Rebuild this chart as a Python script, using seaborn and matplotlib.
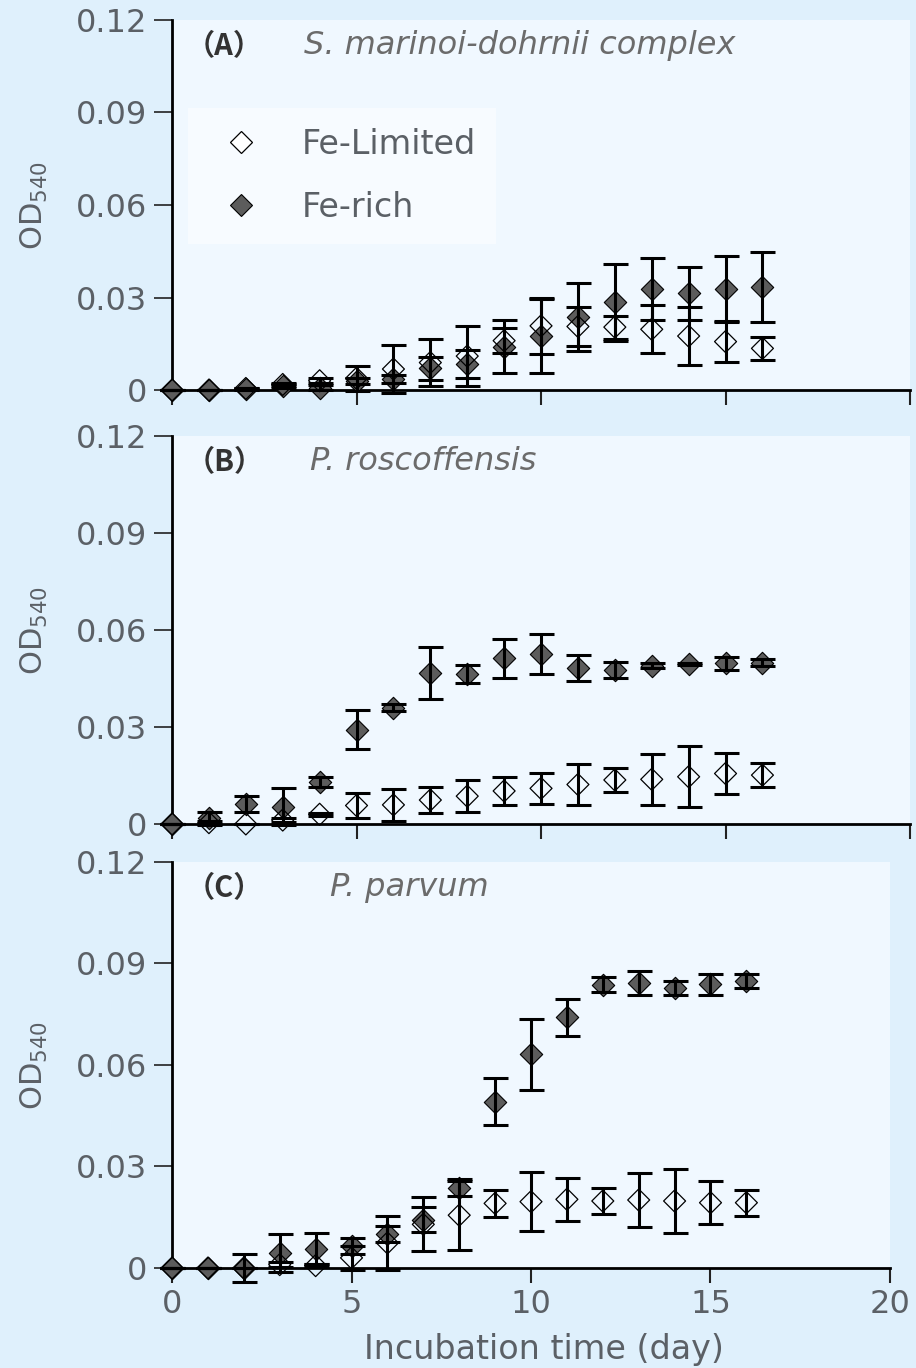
import numpy as np
import pandas as pd
import matplotlib
matplotlib.use("Agg")
import matplotlib.pyplot as plt
from matplotlib.lines import Line2D
import seaborn as sns

# incubation days (same for every panel)
days = list(range(17))

# panel A - S. marinoi-dohrnii complex
limited_A = [0, 0, 0.0005, 0.0018, 0.003, 0.0038, 0.0068, 0.0089, 0.011, 0.016, 0.0208,
             0.0206, 0.0204, 0.0197, 0.0175, 0.0157, 0.0135]
limited_A_sd = [0, 0, 0.0003, 0.0006, 0.0008, 0.004, 0.0077, 0.0077, 0.0098, 0.004, 0.009,
                0.0063, 0.0037, 0.0078, 0.0095, 0.0065, 0.0037]
rich_A = [0, 0, 0.0003, 0.0012, 0.0008, 0.003, 0.0036, 0.007, 0.0085, 0.014, 0.0175,
          0.0238, 0.0284, 0.0327, 0.0314, 0.0328, 0.0334]
rich_A_sd = [0, 0, 0.0003, 0.0006, 0.0008, 0.001, 0.0013, 0.0038, 0.0045, 0.0086, 0.012,
             0.011, 0.0126, 0.0101, 0.0086, 0.0105, 0.0112]

# panel B - P. roscoffensis
limited_B = [0, 0.0004, 0, 0.0012, 0.003, 0.0057, 0.0059, 0.0074, 0.0086, 0.0102, 0.011,
             0.0122, 0.0136, 0.0138, 0.0146, 0.0156, 0.0151]
limited_B_sd = [0, 0.0005, 0, 0.0007, 0.0005, 0.004, 0.005, 0.004, 0.005, 0.0042, 0.0047,
                0.0062, 0.0037, 0.0078, 0.0094, 0.0064, 0.0037]
rich_B = [0, 0.0017, 0.0061, 0.0053, 0.013, 0.0292, 0.036, 0.0467, 0.0464, 0.0512, 0.0526,
          0.0482, 0.0476, 0.0489, 0.0495, 0.0497, 0.0499]
rich_B_sd = [0, 0.002, 0.0025, 0.0057, 0.0015, 0.0059, 0.0012, 0.0081, 0.0028, 0.006, 0.0062,
             0.004, 0.0025, 0.0008, 0.0004, 0.002, 0.001]

# panel C - P. parvum
limited_C = [0, 0, 0, 0.001, 0.0007, 0.003, 0.0074, 0.0129, 0.0156, 0.0191, 0.0196,
             0.0203, 0.0198, 0.0201, 0.0198, 0.0193, 0.0193]
limited_C_sd = [0, 0, 0, 0.0007, 0.0005, 0.0036, 0.008, 0.008, 0.0102, 0.0041, 0.0088,
                0.0063, 0.0037, 0.0079, 0.0095, 0.0064, 0.0038]
rich_C = [0, 0, 0, 0.0044, 0.0057, 0.0065, 0.0101, 0.0143, 0.0237, 0.0492, 0.0632,
          0.0741, 0.0837, 0.0843, 0.0828, 0.0838, 0.0848]
rich_C_sd = [0, 0, 0.0041, 0.0057, 0.0046, 0.0025, 0.0023, 0.0037, 0.0025, 0.0069, 0.0105,
             0.0054, 0.0022, 0.0035, 0.002, 0.003, 0.002]

panel_tags = ["（A）", "（B）", "（C）"]
species = ["S. marinoi-dohrnii complex", "P. roscoffensis", "P. parvum"]
treatments = ["Fe-Limited", "Fe-rich"]
yticks = [0, 0.03, 0.06, 0.09, 0.12]
ytick_labels = ["0", "0.03", "0.06", "0.09", "0.12"]
xticks = [0, 5, 10, 15, 20]

series = [
    (limited_A, limited_A_sd, rich_A, rich_A_sd),
    (limited_B, limited_B_sd, rich_B, rich_B_sd),
    (limited_C, limited_C_sd, rich_C, rich_C_sd),
]

# long table
rows = []
for p, (lim, lim_sd, rich, rich_sd) in enumerate(series):
    for d, v, s in zip(days, lim, lim_sd):
        rows.append({"panel": p, "treatment": "Fe-Limited", "day": d, "od": v, "sd": s})
    for d, v, s in zip(days, rich, rich_sd):
        rows.append({"panel": p, "treatment": "Fe-rich", "day": d, "od": v, "sd": s})
data = pd.DataFrame(rows)

BG = "#dff0fc"
AX_BG = "#f0f8ff"
TXT = "#5b6066"
FILL = "#5c5c5c"

plt.rcParams["font.family"] = ["DejaVu Sans"]

fig = plt.figure(figsize=(9.16, 13.68), dpi=100, facecolor=BG)

# [left, bottom, width, height] in figure fraction
positions = [
    [0.1878, 0.7149, 0.8057, 0.2705],
    [0.1878, 0.3977, 0.8057, 0.2836],
    [0.1878, 0.0731, 0.7838, 0.2968],
]
text_pos = [(0.018, 0.93, 0.179), (0.018, 0.933, 0.187), (0.019, 0.936, 0.22)]

for p in range(3):
    ax = fig.add_axes(positions[p], facecolor=AX_BG)
    sub = data[data.panel == p]
    rich = sub[sub.treatment == "Fe-rich"]
    lim = sub[sub.treatment == "Fe-Limited"]

    sns.scatterplot(data=rich, x="day", y="od", marker="D", s=130, color=FILL,
                    edgecolor="black", linewidth=0.8, ax=ax, clip_on=False, zorder=3)
    sns.scatterplot(data=lim, x="day", y="od", marker="D", s=125, color="black",
                    edgecolor="black", linewidth=0.9, ax=ax, clip_on=False, zorder=3.5)
    ax.collections[-1].set_facecolor("none")

    for part in (rich, lim):
        eb = ax.errorbar(part.day, part.od, yerr=part.sd, fmt="none", ecolor="black",
                         elinewidth=2.2, capsize=9, capthick=2.2, zorder=4)
        for a in eb.lines[1] + eb.lines[2]:
            a.set_clip_on(False)

    ax.set_xlim(0, 20)
    ax.set_ylim(0, 0.12)
    ax.set_yticks(yticks)
    ax.set_yticklabels(ytick_labels)
    ax.set_xticks(xticks)
    for s in ["top", "right"]:
        ax.spines[s].set_visible(False)
    for s in ["left", "bottom"]:
        ax.spines[s].set_linewidth(2)
        ax.spines[s].set_color("black")
    ax.tick_params(axis="y", length=13, width=1.2, color="#222222", pad=5,
                   labelsize=23, labelcolor=TXT)
    ax.tick_params(axis="x", length=11, width=1.5, color="#222222", pad=4,
                   labelsize=23, labelcolor=TXT)

    ax.set_ylabel(r"OD$_{540}$", fontsize=22, color=TXT)
    ax.yaxis.set_label_coords(-0.165 if p < 2 else -0.170, 0.5)
    if p < 2:
        ax.tick_params(axis="x", labelbottom=False)
        ax.set_xlabel("")
    else:
        ax.set_xlabel("Incubation time (day)", fontsize=24, color=TXT)
        ax.xaxis.set_label_coords(0.518, -0.16)

    tx, ty, sx = text_pos[p]
    ax.text(tx, ty, panel_tags[p], transform=ax.transAxes, ha="left", va="center",
            fontsize=21, fontweight="bold", color="#333333",
            family=["Noto Sans CJK JP", "DejaVu Sans"])
    ax.text(sx, ty, species[p], transform=ax.transAxes, ha="left", va="center",
            fontsize=23, style="italic", color="#6b6b6b")

    if p == 0:
        handles = [
            Line2D([], [], ls="none", marker="D", markersize=11.4, mfc="white",
                   mec="black", mew=0.9),
            Line2D([], [], ls="none", marker="D", markersize=11.4, mfc=FILL,
                   mec="black", mew=0.8),
        ]
        leg = ax.legend(handles, treatments, loc="upper left",
                        bbox_to_anchor=(0.0217, 0.762), borderaxespad=0,
                        fontsize=24, labelcolor=TXT, frameon=True, fancybox=False,
                        facecolor="#f7fbff", edgecolor="none", framealpha=1,
                        borderpad=0.6, handlelength=2.0, handletextpad=0.8,
                        labelspacing=0.9)

fig.savefig("out.png", dpi=100, facecolor=BG)
